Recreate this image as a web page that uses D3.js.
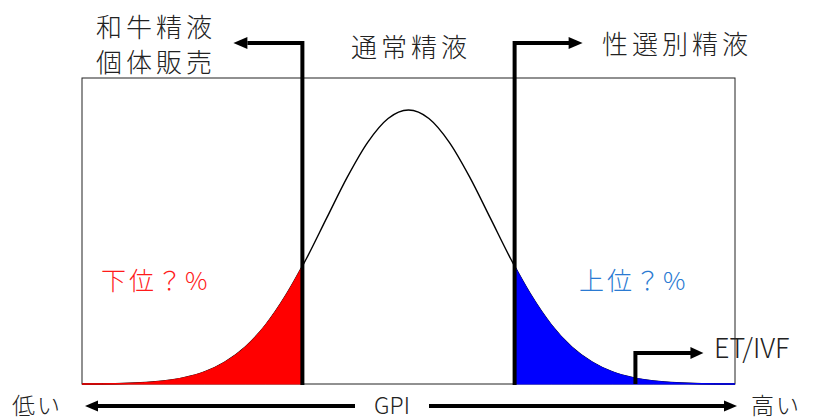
<!DOCTYPE html>
<html><head><meta charset="utf-8">
<script src="https://cdn.jsdelivr.net/npm/d3@7"></script>
<style>body{margin:0;background:#fff}svg{display:block}text{font-family:"Noto Sans CJK JP","Noto Sans",sans-serif;font-weight:300}</style>
</head><body>
<script>
// GPI position (in standard deviations) and relative density
const gpi = [-4,-3.5,-3,-2.75,-2.5,-2.25,-2,-1.75,-1.5,-1.3,-1.25,-1,-0.75,-0.5,-0.25,0,0.25,0.5,0.75,1,1.25,1.3,1.5,1.75,2,2.25,2.5,2.75,3,3.5,4];
const density = [0,0.002,0.011,0.023,0.044,0.080,0.135,0.216,0.325,0.43,0.458,0.607,0.755,0.882,0.969,1,0.969,0.882,0.755,0.607,0.458,0.43,0.325,0.216,0.135,0.080,0.044,0.023,0.011,0.002,0];
const lowCut = -1.3, highCut = 1.3, etCut = 2.78;
const lowLabel = ["和牛精液","個体販売"], midLabel = "通常精液", highLabel = "性選別精液";
const lowPct = "下位？%", highPct = "上位？%", etLabel = "ET/IVF";
const axisLabels = ["低い","GPI","高い"];

const W = 813, H = 420;
const svg = d3.select("body").append("svg").attr("width", W).attr("height", H);
const x = d3.scaleLinear().domain([-4, 4]).range([82, 735]);
const y = d3.scaleLinear().domain([0, 1]).range([384, 110]);
const pts = gpi.map((g, i) => ({g, d: density[i]}));

// frame
svg.append("rect").attr("x", x(-4)).attr("y", 78).attr("width", x(4) - x(-4)).attr("height", y(0) - 78)
  .attr("fill", "none").attr("stroke", "#222").attr("stroke-width", 1);

const line = d3.line().x(p => x(p.g)).y(p => y(p.d)).curve(d3.curveMonotoneX);
const area = d3.area().x(p => x(p.g)).y0(y(0)).y1(p => y(p.d)).curve(d3.curveMonotoneX);

svg.append("path").datum(pts).attr("d", line).attr("fill", "none").attr("stroke", "#000").attr("stroke-width", 1.4);
svg.append("path").datum(pts.filter(p => p.g <= lowCut)).attr("d", area).attr("fill", "#ff0000").attr("stroke", "#ff0000").attr("stroke-width", 1);
svg.append("path").datum(pts.filter(p => p.g >= highCut)).attr("d", area).attr("fill", "#0000ff").attr("stroke", "#0000ff").attr("stroke-width", 1);

function arrowHead(tipX, tipY, dir, len, half) {
  svg.append("path").attr("d", `M${tipX},${tipY} L${tipX - dir*len},${tipY - half} L${tipX - dir*len},${tipY + half} Z`).attr("fill", "#000");
}
const topY = 43;
// cut lines with arrows
const xl = x(lowCut), xh = x(highCut);
svg.append("path").attr("d", `M${xl},${y(0)+1} L${xl},${topY} L${xl-55},${topY}`).attr("fill", "none").attr("stroke", "#000").attr("stroke-width", 4);
arrowHead(xl - 69, topY, -1, 14, 6);
svg.append("path").attr("d", `M${xh},${y(0)+1} L${xh},${topY} L${xh+55},${topY}`).attr("fill", "none").attr("stroke", "#000").attr("stroke-width", 4);
arrowHead(xh + 68, topY, 1, 14, 6);

// ET/IVF arrow
const xe = x(etCut);
svg.append("path").attr("d", `M${xe},${y(0)} L${xe},353 L${xe+56},353`).attr("fill", "none").attr("stroke", "#000").attr("stroke-width", 4);
arrowHead(xe + 68, 353, 1, 13, 6);

// labels
const lbl = (t, xx, yy, size, anchor, color, ls) => svg.append("text").text(t).attr("x", xx).attr("y", yy)
  .attr("font-size", size).attr("text-anchor", anchor).attr("dominant-baseline", "central")
  .attr("fill", color).attr("letter-spacing", ls || 0);
lbl(lowLabel[0], 96, 25, 26, "start", "#222", 4);
lbl(lowLabel[1], 96, 60, 26, "start", "#222", 4);
lbl(midLabel, 411, 45, 26, "middle", "#222", 4);
lbl(highLabel, 602, 42, 26, "start", "#222", 4);
lbl(lowPct, 101, 279, 25, "start", "#ff1a1a", 3);
lbl(highPct, 579, 279, 25, "start", "#2a7ad2", 3);
lbl(etLabel, 714, 346, 27, "start", "#222", 0);

// GPI axis
const ay = 406;
lbl(axisLabels[0], 12, 404, 23, "start", "#222", 2);
lbl(axisLabels[1], 392, 404, 23, "middle", "#222", 0);
lbl(axisLabels[2], 751, 404, 23, "start", "#222", 2);
svg.append("line").attr("x1", 95).attr("x2", 355).attr("y1", ay).attr("y2", ay).attr("stroke", "#000").attr("stroke-width", 4);
arrowHead(85, ay, -1, 13, 5.5);
svg.append("line").attr("x1", 429).attr("x2", 727).attr("y1", ay).attr("y2", ay).attr("stroke", "#000").attr("stroke-width", 4);
arrowHead(737, ay, 1, 13, 5.5);
</script>
</body></html>
